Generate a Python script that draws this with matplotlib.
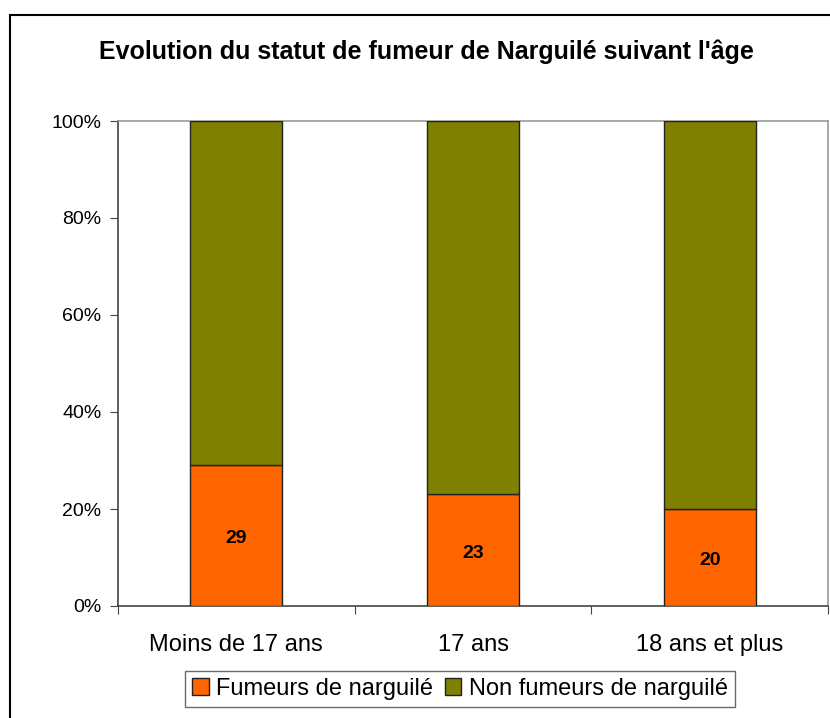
import numpy as np
import matplotlib
matplotlib.use("Agg")
import matplotlib.pyplot as plt
from matplotlib.patches import Rectangle

plt.rcParams["font.family"] = ["Liberation Sans", "DejaVu Sans"]

categories = ["Moins de 17 ans", "17 ans", "18 ans et plus"]
fumeurs = [29, 23, 20]
non_fumeurs = [71, 77, 80]
series_names = ["Fumeurs de narguilé", "Non fumeurs de narguilé"]
ORANGE, OLIVE = "#FF6600", "#808000"

fig = plt.figure(figsize=(8.30, 7.18), dpi=100)
# outer chart border (runs off the right/bottom of the image)
fig.patches.append(Rectangle((10 / 830, -0.05), 1.1, 1 - 15 / 718 + 0.05, transform=fig.transFigure,
                             fill=False, edgecolor="black", lw=1.5))
ax = fig.add_axes([118 / 830, 1 - 606 / 718, 710 / 830, 485 / 718])

x = np.arange(len(categories))
w = 0.39
ax.bar(x, fumeurs, w, color=ORANGE, edgecolor="#222222", lw=1, label=series_names[0], zorder=3)
ax.bar(x, non_fumeurs, w, bottom=fumeurs, color=OLIVE, edgecolor="#222222", lw=1,
       label=series_names[1], zorder=3)
for xi, v in zip(x, fumeurs):
    ax.text(xi, v / 2 - 0.6, str(v), ha="center", va="center", fontsize=14, fontweight="bold", zorder=4)

ax.set_xlim(-0.5, len(categories) - 0.5)
ax.set_ylim(0, 100)
ax.set_yticks(np.arange(0, 101, 20))
ax.set_yticklabels([f"{v}%" for v in range(0, 101, 20)], fontsize=14)
ax.set_xticks(np.arange(len(categories) + 1) - 0.5)
ax.set_xticklabels([])
ax.set_xticks(x, minor=True)
ax.set_xticklabels(categories, minor=True, fontsize=17)
ax.tick_params(axis="x", which="major", length=6, direction="out", color="#444444")
ax.tick_params(axis="x", which="minor", length=0, pad=20)
ax.tick_params(axis="y", length=6, direction="out", color="#444444", pad=6)
for s in ["left", "bottom"]:
    ax.spines[s].set_color("#444444")
for s in ["top", "right"]:
    ax.spines[s].set_color("#999999")
for s in ax.spines.values():
    s.set_linewidth(1.2)

fig.text(426 / 830, 1 - 52 / 718, "Evolution du statut de fumeur de Narguilé suivant l'âge",
         ha="center", va="center", fontsize=18, fontweight="bold")

fig.legend(loc="center", bbox_to_anchor=(460 / 830, 1 - 689 / 718), ncol=2, fontsize=17,
           frameon=True, fancybox=False, edgecolor="#444444", handlelength=0.7, handleheight=0.7,
           handletextpad=0.3, columnspacing=0.5, borderpad=0.3, borderaxespad=0)

fig.savefig("out.png", dpi=100)
